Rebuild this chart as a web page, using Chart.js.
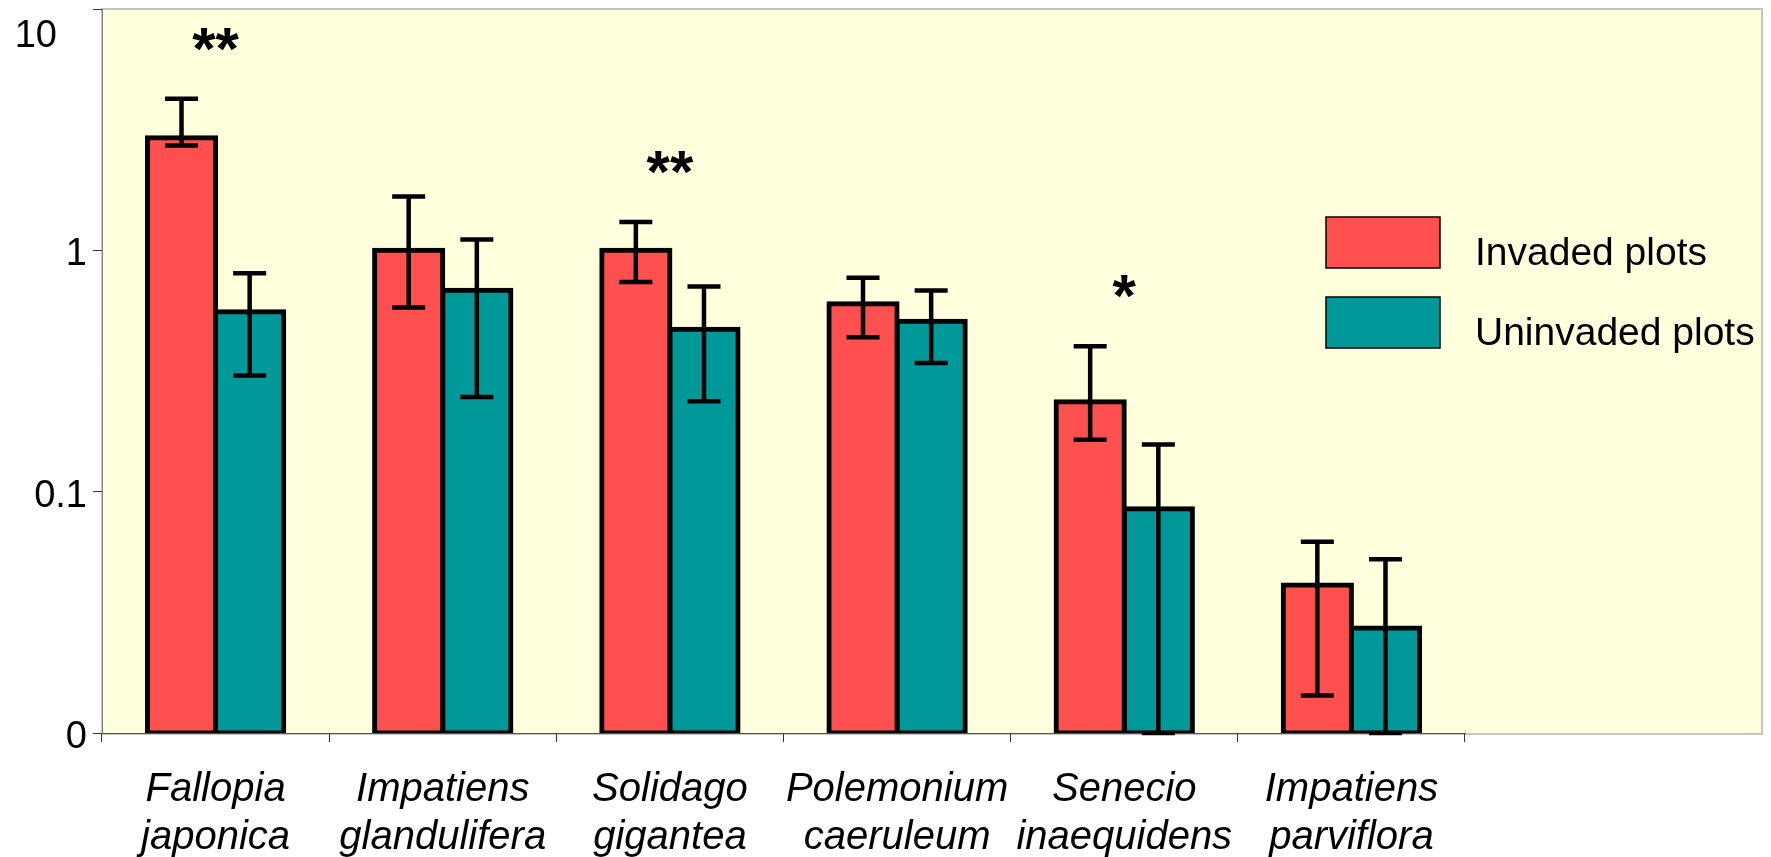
<!DOCTYPE html>
<html>
<head>
<meta charset="utf-8">
<script src="https://cdn.jsdelivr.net/npm/chart.js@4/dist/chart.umd.min.js"></script>
<style>
  html, body { margin: 0; padding: 0; background: #ffffff; }
  #c { display: block; }
</style>
</head>
<body>
<canvas id="c" width="1771" height="857"></canvas>
<script>
// Species (two-line labels: genus, species)
const categories = [
  ['Fallopia', 'japonica'],
  ['Impatiens', 'glandulifera'],
  ['Solidago', 'gigantea'],
  ['Polemonium', 'caeruleum'],
  ['Senecio', 'inaequidens'],
  ['Impatiens', 'parviflora']
];

const seriesNames = ['Invaded plots', 'Uninvaded plots'];

// Mean values per species
const invaded   = [2.93, 1.00, 1.00, 0.60, 0.236, 0.041];
const uninvaded = [0.557, 0.684, 0.471, 0.508, 0.085, 0.0272];

// Error bar limits (upper / lower); 0 = below the axis floor
const invadedHigh   = [4.25, 1.67, 1.31, 0.77, 0.40, 0.062];
const invadedLow    = [2.72, 0.58, 0.74, 0.436, 0.164, 0.0143];
const uninvadedHigh = [0.803, 1.11, 0.709, 0.682, 0.157, 0.0525];
const uninvadedLow  = [0.303, 0.247, 0.237, 0.341, 0, 0];

// Significance marks drawn above each species
const significance = ['**', '', '**', '', '*', ''];

// Value axis ticks
const yTickValues = [10, 1, 0.1, 0.01];
const yTickLabels = ['10', '1', '0.1', '0'];

const COLORS = ['#FF5050', '#009999'];
const FONT = '"Liberation Sans", Arial, Helvetica, sans-serif';
const highs = [invadedHigh, uninvadedHigh];
const lows  = [invadedLow, uninvadedLow];

const decorations = {
  id: 'decorations',
  beforeDraw(chart) {
    const { ctx, chartArea: a } = chart;
    ctx.save();
    ctx.fillStyle = '#ffffff';
    ctx.fillRect(0, 0, chart.width, chart.height);
    // plot panel extends under the key on the right
    const right = chart.width - 9;
    ctx.fillStyle = '#FFFFDE';
    ctx.fillRect(a.left, a.top, right - a.left, a.bottom - a.top);
    ctx.strokeStyle = '#C4C4C4';
    ctx.lineWidth = 2;
    ctx.strokeRect(a.left, a.top, right - a.left, a.bottom - a.top + 1);
    ctx.restore();
  },
  afterDatasetsDraw(chart) {
    const { ctx, scales: { x, y } } = chart;
    ctx.save();
    ctx.strokeStyle = '#000';
    ctx.lineWidth = 4.5;
    ctx.lineCap = 'butt';
    const capHalf = 16.5;
    chart.data.datasets.forEach((ds, di) => {
      const meta = chart.getDatasetMeta(di);
      meta.data.forEach((bar, i) => {
        const bx = bar.x;
        const yHi = y.getPixelForValue(Math.max(highs[di][i], y.min));
        const yLo = y.getPixelForValue(Math.max(lows[di][i], y.min));
        ctx.beginPath();
        ctx.moveTo(bx, yHi); ctx.lineTo(bx, yLo);
        ctx.moveTo(bx - capHalf, yHi); ctx.lineTo(bx + capHalf, yHi);
        ctx.moveTo(bx - capHalf, yLo); ctx.lineTo(bx + capHalf, yLo);
        ctx.stroke();
      });
    });
    // significance asterisks
    ctx.fillStyle = '#000';
    ctx.font = 'bold 60px ' + FONT;
    ctx.textAlign = 'center';
    ctx.textBaseline = 'alphabetic';
    significance.forEach((s, i) => {
      if (!s) return;
      const top = Math.min(y.getPixelForValue(invadedHigh[i]), y.getPixelForValue(uninvadedHigh[i]));
      ctx.fillText(s, x.getPixelForValue(i), top - 30);
    });
    ctx.restore();
  },
  afterDraw(chart) {
    const { ctx, chartArea: a, scales: { y } } = chart;
    ctx.save();
    // value axis labels
    ctx.fillStyle = '#000';
    ctx.font = '38px ' + FONT;
    ctx.textAlign = 'right';
    ctx.textBaseline = 'alphabetic';
    yTickValues.forEach((v, k) => {
      const py = y.getPixelForValue(v);
      let base = py + 15, xr = a.left - 15;
      if (py < a.top + 20) { base = a.top + 38; xr = a.left - 45; } // corner label tucked below the top
      ctx.fillText(yTickLabels[k], xr, base);
    });
    // key
    ctx.font = '39px ' + FONT;
    ctx.textAlign = 'left';
    seriesNames.forEach((name, k) => {
      const bx = chart.width - 445, by = 217 + k * 80;
      ctx.fillStyle = COLORS[k];
      ctx.fillRect(bx, by, 114, 51);
      ctx.strokeStyle = '#000';
      ctx.lineWidth = 1.5;
      ctx.strokeRect(bx, by, 114, 51);
      ctx.fillStyle = '#000';
      ctx.fillText(name, bx + 149, by + 48);
    });
    ctx.restore();
  }
};

new Chart(document.getElementById('c'), {
  type: 'bar',
  data: {
    labels: categories,
    datasets: [
      { label: seriesNames[0], data: invaded, backgroundColor: COLORS[0],
        borderColor: '#000', borderWidth: 5, borderSkipped: false, inflateAmount: 2.5 },
      { label: seriesNames[1], data: uninvaded, backgroundColor: COLORS[1],
        borderColor: '#000', borderWidth: 5, borderSkipped: false, inflateAmount: 2.5 }
    ]
  },
  options: {
    responsive: false,
    animation: false,
    devicePixelRatio: 1,
    layout: { padding: { top: 9, right: 306, bottom: 0, left: 0 } },
    datasets: { bar: { categoryPercentage: 0.6, barPercentage: 1.0 } },
    scales: {
      x: {
        type: 'category',
        offset: true,
        grid: { offset: true, drawOnChartArea: false, drawTicks: true, tickLength: 9, color: '#333', lineWidth: 1 },
        border: { display: true, color: '#555', width: 1 },
        ticks: {
          color: '#000', autoSkip: false, maxRotation: 0, minRotation: 0, padding: 23,
          font: { family: FONT, size: 40, style: 'italic', lineHeight: 1.22 }
        },
        afterFit(s) { s.height = 124; }
      },
      y: {
        type: 'logarithmic',
        min: 0.01,
        max: 10,
        afterBuildTicks(s) { s.ticks = yTickValues.map(v => ({ value: v })); },
        ticks: { display: false },
        grid: { drawOnChartArea: false, drawTicks: true, tickLength: 9, color: '#333', lineWidth: 1 },
        border: { display: true, color: '#808080', width: 1 },
        afterFit(s) { s.width = 102; }
      }
    },
    plugins: {
      legend: { display: false },
      tooltip: { enabled: false }
    }
  },
  plugins: [decorations]
});
</script>
</body>
</html>
